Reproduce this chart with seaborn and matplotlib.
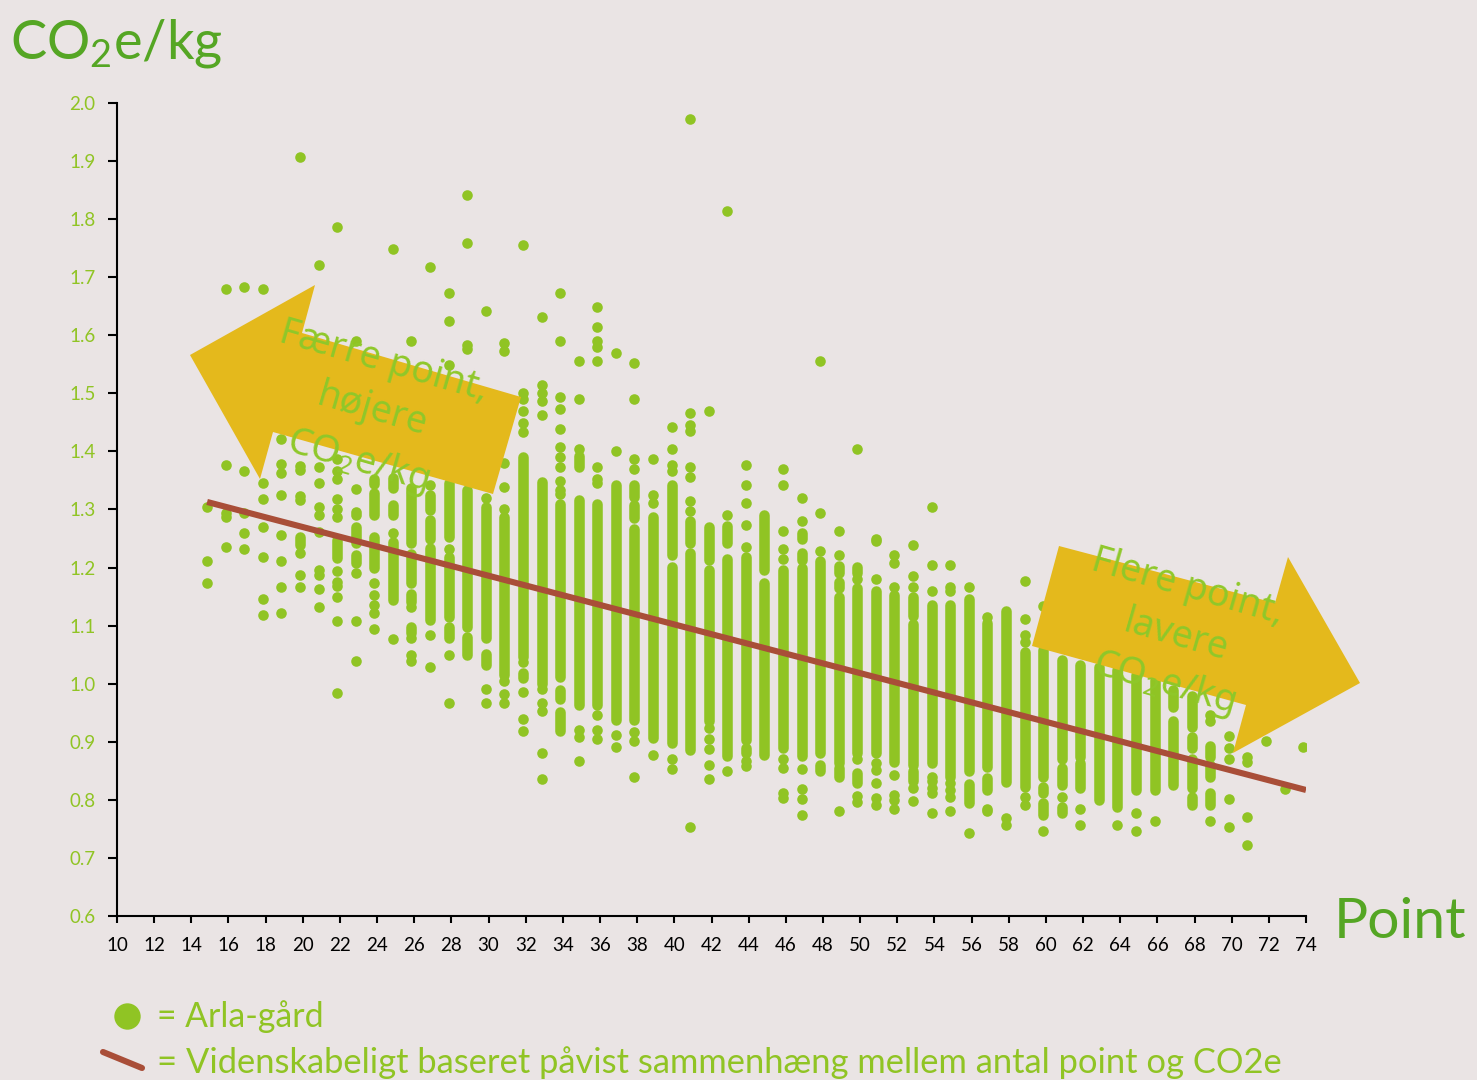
import pandas as pd
import matplotlib.pyplot as plt
from matplotlib.patches import Polygon
from matplotlib.lines import Line2D
import seaborn as sns

# one entry per point score: separate dots and the solid runs of overlapping dots
points = list(range(15, 75))

singles = [
    [1.304, 1.211, 1.173],
    [1.68, 1.377, 1.294, 1.287, 1.235],
    [1.683, 1.366, 1.294, 1.26, 1.232],
    [1.68, 1.346, 1.318, 1.27, 1.218, 1.146, 1.118],
    [1.421, 1.378, 1.363, 1.325, 1.256, 1.211, 1.167, 1.122],
    [1.907, 1.375, 1.368, 1.323, 1.316, 1.225, 1.187, 1.167],
    [1.721, 1.373, 1.346, 1.304, 1.29, 1.261, 1.196, 1.187, 1.163, 1.132],
    [1.786, 1.387, 1.366, 1.352, 1.318, 1.301, 1.287, 1.194, 1.175, 1.168, 1.149, 1.108, 0.984],
    [1.59, 1.335, 1.296, 1.29, 1.191, 1.108, 1.039],
    [1.173, 1.153, 1.136, 1.122, 1.094],
    [1.749, 1.26, 1.077],
    [1.59, 1.132, 1.078, 1.049, 1.039],
    [1.718, 1.342, 1.084, 1.029],
    [1.673, 1.625, 1.549, 1.232, 1.049, 0.967],
    [1.842, 1.759, 1.583, 1.576],
    [1.642, 1.319, 0.991, 0.967],
    [1.587, 1.573, 1.38, 1.339, 1.301, 1.004, 0.983, 0.967],
    [1.755, 1.5, 1.491, 1.469, 1.449, 1.434, 1.038, 0.986, 0.939, 0.918],
    [1.632, 1.514, 1.5, 1.487, 1.462, 0.991, 0.967, 0.953, 0.88, 0.836],
    [1.673, 1.59, 1.494, 1.473, 1.438, 1.407, 1.39, 1.373, 1.349, 1.334, 1.326],
    [1.556, 1.49, 1.404, 0.921, 0.909, 0.867],
    [1.649, 1.615, 1.59, 1.58, 1.555, 1.373, 1.352, 1.345, 0.946, 0.921, 0.905],
    [1.57, 1.4, 0.911, 0.891],
    [1.553, 1.49, 1.387, 1.37, 0.917, 0.902, 0.839],
    [1.387, 1.325, 1.312, 0.877],
    [1.442, 1.404, 1.376, 1.367, 0.87, 0.853],
    [1.972, 1.467, 1.446, 1.436, 1.374, 1.356, 1.315, 1.298, 0.754],
    [1.47, 0.924, 0.905, 0.888, 0.86, 0.836],
    [1.814, 1.291, 0.85],
    [1.377, 1.343, 1.312, 1.274, 1.236, 0.867, 0.858],
    [],
    [1.37, 1.343, 1.263, 1.232, 1.215, 0.87, 0.855, 0.812, 0.803],
    [1.319, 1.281, 0.853, 0.819, 0.802, 0.774],
    [1.556, 1.294, 1.229],
    [1.263, 1.222, 0.781],
    [1.405, 1.181, 0.871, 0.806, 0.796],
    [1.25, 1.246, 1.181, 0.863, 0.851, 0.829, 0.803, 0.792],
    [1.222, 1.208, 1.167, 0.843, 0.809, 0.8, 0.785],
    [1.239, 1.185, 1.167, 0.82, 0.798],
    [1.305, 1.205, 1.16, 0.84, 0.832, 0.82, 0.812, 0.778],
    [1.205, 1.167, 1.159, 0.829, 0.817, 0.805, 0.781],
    [1.167, 0.743],
    [1.115, 0.785, 0.78],
    [0.768, 0.757],
    [1.177, 1.111, 1.084, 1.072, 0.805, 0.791],
    [1.133, 0.746],
    [0.805],
    [0.784, 0.757],
    [],
    [0.757],
    [0.777, 0.746],
    [0.763],
    [],
    [],
    [0.946, 0.935, 0.763],
    [0.91, 0.889, 0.871, 0.801, 0.753],
    [0.874, 0.866, 0.77, 0.722],
    [0.901],
    [0.819],
    [0.891],
]

runs = [
    [], [], [], [], [],
    [(1.239, 1.253)],
    [],
    [(1.216, 1.247)],
    [(1.242, 1.27), (1.208, 1.222)],
    [(1.344, 1.352), (1.29, 1.328), (1.199, 1.253)],
    [(1.337, 1.354), (1.29, 1.308), (1.144, 1.244)],
    [(1.243, 1.337), (1.173, 1.224), (1.141, 1.155), (1.087, 1.098)],
    [(1.299, 1.325), (1.25, 1.282), (1.109, 1.233)],
    [(1.253, 1.345), (1.115, 1.219), (1.078, 1.098)],
    [(1.098, 1.333), (1.049, 1.081)],
    [(1.078, 1.305), (1.032, 1.052)],
    [(1.015, 1.287)],
    [(1.046, 1.39), (1.009, 1.018)],
    [(1.0, 1.348)],
    [(1.012, 1.31), (0.973, 0.99), (0.918, 0.952)],
    [(1.374, 1.392), (0.963, 1.317)],
    [(0.963, 1.31)],
    [(0.937, 1.342)],
    [(1.322, 1.342), (1.285, 1.307), (0.937, 1.267)],
    [(0.906, 1.287)],
    [(1.221, 1.342), (0.898, 1.201)],
    [(1.242, 1.28), (0.886, 1.225)],
    [(1.213, 1.27), (0.935, 1.196)],
    [(1.242, 1.271), (0.875, 1.215)],
    [(0.903, 1.219), (0.88, 0.889)],
    [(1.196, 1.291), (0.878, 1.173)],
    [(0.889, 1.196)],
    [(1.249, 1.259), (1.213, 1.225), (0.875, 1.199)],
    [(0.881, 1.211), (0.85, 0.86)],
    [(1.19, 1.202), (1.165, 1.176), (0.863, 1.15), (0.84, 0.855)],
    [(1.19, 1.201), (0.881, 1.165), (0.829, 0.846)],
    [(0.881, 1.159)],
    [(0.866, 1.153)],
    [(1.116, 1.15), (0.86, 1.102), (0.832, 0.849)],
    [(0.863, 1.136)],
    [(0.84, 1.136)],
    [(0.85, 1.146), (0.794, 0.828)],
    [(0.857, 1.104), (0.817, 0.837)],
    [(0.831, 1.125)],
    [(0.823, 1.055)],
    [(0.84, 1.058), (0.811, 0.823), (0.774, 0.794)],
    [(0.871, 1.041), (0.825, 0.854), (0.777, 0.788)],
    [(0.874, 1.032), (0.82, 0.863)],
    [(0.8, 1.029)],
    [(0.788, 1.024)],
    [(0.817, 1.015)],
    [(0.817, 1.006)],
    [(0.96, 0.989), (0.825, 0.935)],
    [(0.926, 0.978), (0.889, 0.909), (0.82, 0.871), (0.791, 0.805)],
    [(0.874, 0.892), (0.84, 0.86), (0.791, 0.811)],
    [], [], [], [], [],
]

trend_points = [14.85, 74]
trend_co2 = [1.313, 0.817]

x_ticks = list(range(10, 76, 2))
y_ticks = [0.6, 0.7, 0.8, 0.9, 1.0, 1.1, 1.2, 1.3, 1.4, 1.5, 1.6, 1.7, 1.8, 1.9, 2.0]

# the dots sit a little left of the tick marks in the original
shift = -0.15

bg = '#EAE4E4'
green = '#90C424'
dark_green = '#55A624'
yellow = '#E4B91C'
brown = '#A94E38'

W, H = 1477, 1080

sns.set_theme(style='white')
plt.rcParams['font.family'] = ['Lato', 'DejaVu Sans']
plt.rcParams['mathtext.default'] = 'regular'

dots = pd.DataFrame(
    [(p + shift, v) for p, vals in zip(points, singles) for v in vals],
    columns=['point', 'co2'],
)
bands = pd.DataFrame(
    [(p + shift, lo, hi) for p, vals in zip(points, runs) for lo, hi in vals],
    columns=['point', 'low', 'high'],
)
trend = pd.DataFrame({'point': trend_points, 'co2': trend_co2})

fig = plt.figure(figsize=(W / 100, H / 100), dpi=100, facecolor=bg)
ax = fig.add_axes([117 / W, 1 - 916 / H, (1306 - 117) / W, (916 - 103) / H], facecolor=bg)

sns.scatterplot(data=dots, x='point', y='co2', s=58, color=green, linewidth=0, ax=ax, legend=False)
ax.vlines(bands['point'], bands['low'], bands['high'], colors=green, linewidth=7.6, capstyle='round')
sns.lineplot(data=trend, x='point', y='co2', color=brown, linewidth=4.4, ax=ax, legend=False,
             solid_capstyle='butt', zorder=3)

ax.set_xlim(10, 74)
ax.set_ylim(0.6, 2.0)
ax.set_xticks(x_ticks)
ax.set_yticks(y_ticks)
ax.set_yticklabels([f'{v:.1f}' for v in y_ticks])
ax.set_xlabel('')
ax.set_ylabel('')
ax.tick_params(axis='x', length=5, width=1.5, color='black', labelcolor='black', labelsize=13.5, pad=10, bottom=True)
ax.tick_params(axis='y', length=6.5, width=1.5, color='black', labelcolor=green, labelsize=13.5, pad=9, left=True)
sns.despine(ax=ax)
for s in ['left', 'bottom']:
    ax.spines[s].set_color('black')
    ax.spines[s].set_linewidth(1.5)


def to_fig(x, y):
    return (x / W, 1 - y / H)


# arrows on top of the dots
left_arrow = [(190, 355), (315, 285), (302, 333), (521, 397), (493, 494), (273, 432), (260, 479)]
right_arrow = [(1059, 546), (1275, 603), (1288, 557), (1360, 683), (1233, 753), (1246, 705), (1032, 646)]
for shape in [left_arrow, right_arrow]:
    fig.add_artist(Polygon([to_fig(*p) for p in shape], closed=True, transform=fig.transFigure,
                           facecolor=yellow, edgecolor='none', zorder=5))

arrow_text = [
    ('Færre point,', 384, 361),
    ('højere', 372, 410),
    ('CO$_2$e/kg', 358, 461),
    ('Flere point,', 1188, 587),
    ('lavere', 1176, 636),
    ('CO$_2$e/kg', 1164, 683),
]
for txt, x, y in arrow_text:
    fx, fy = to_fig(x, y)
    fig.text(fx, fy, txt, color='#8FC82A', fontsize=27, rotation=-16, ha='center', va='center',
             rotation_mode='anchor', family=['Noto Sans', 'DejaVu Sans'], zorder=6)

fx, fy = to_fig(10, 58)
fig.text(fx, fy, 'CO$_2$e/kg', color=dark_green, fontsize=39, ha='left', va='baseline')
fx, fy = to_fig(1334, 938)
fig.text(fx, fy, 'Point', color=dark_green, fontsize=41, ha='left', va='baseline')

# hand made key below the axis
fig.add_artist(Line2D([127 / W], [1 - 1016 / H], marker='o', markersize=19, color=green, linewidth=0,
                      markeredgewidth=0, transform=fig.transFigure))
fig.add_artist(Line2D([103 / W, 142 / W], [1 - 1052 / H, 1 - 1068 / H], color=brown, linewidth=4.4,
                      solid_capstyle='round', transform=fig.transFigure))
fx, fy = to_fig(157, 1027)
fig.text(fx, fy, '= Arla-gård', color=green, fontsize=24.3, ha='left', va='baseline')
fx, fy = to_fig(157, 1073)
fig.text(fx, fy, '= Videnskabeligt baseret påvist sammenhæng mellem antal point og CO2e',
         color=green, fontsize=24.8, ha='left', va='baseline')

fig.savefig('out.png', dpi=100, facecolor=bg)
